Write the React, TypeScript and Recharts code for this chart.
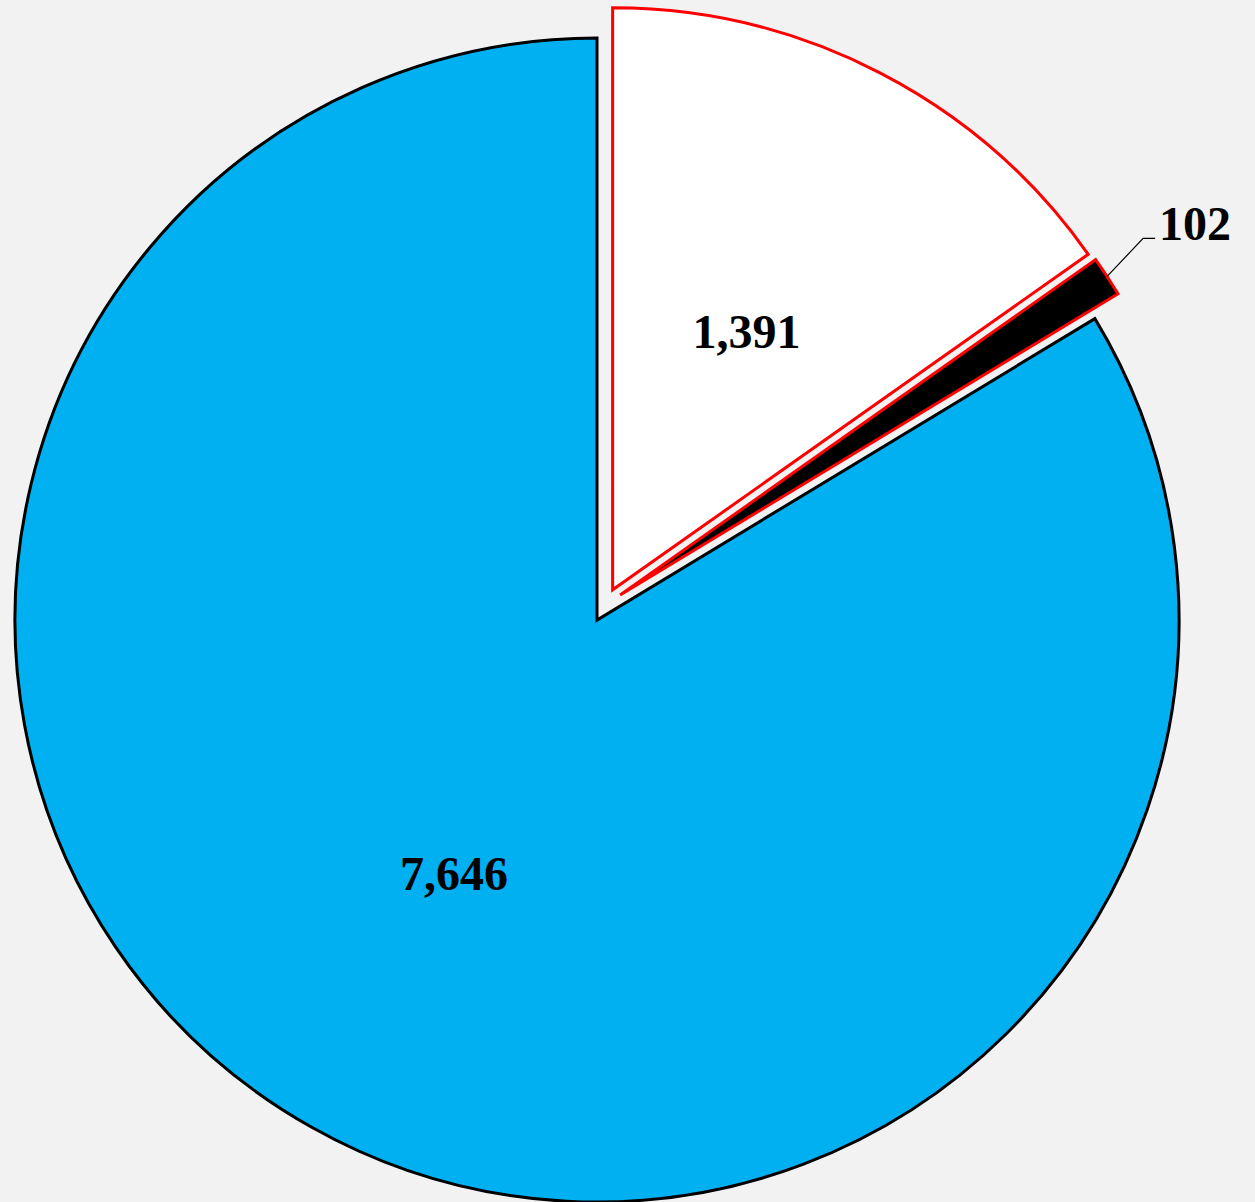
import { PieChart, Pie, Cell } from 'recharts';

const categories = ['Group B', 'Group C', 'Group A'];
const values = [1391, 102, 7646];
const fills = ['#ffffff', '#000000', '#00b0f0'];
const strokes = ['#ff0000', '#ff0000', '#000000'];
// explosion distance and direction offset (deg) per slice
const explodeDist = [34, 34, 0];
const explodeTurn = [0, 14, 0];

const bg = '#f2f2f2';
const W = 1255;
const H = 1202;
const CX = 597;
const CY = 620;
const R = 582;
const START = 90;
const RAD = Math.PI / 180;
const font = '"Liberation Serif", "Times New Roman", serif';

const data = categories.map((name, i) => ({ name, value: values[i] }));
const total = values.reduce((a, b) => a + b, 0);

// mid angle of each slice (degrees, clockwise from START)
const midAngles = values.map((v, i) => {
  const before = values.slice(0, i).reduce((a, b) => a + b, 0);
  return START - ((before + v / 2) / total) * 360;
});

const fmt = (v: number) => v.toLocaleString('en-US');

function makeLabel(target: number) {
  return (props: any) => {
    const { cx, cy, midAngle, outerRadius, index, value } = props;
    if (index !== target) return null;
    const cos = Math.cos(-midAngle * RAD);
    const sin = Math.sin(-midAngle * RAD);
    if (value / total > 0.05) {
      return (
        <text
          x={cx + outerRadius * 0.5 * cos}
          y={cy + outerRadius * 0.5 * sin}
          textAnchor="middle"
          dominantBaseline="central"
          fontFamily={font}
          fontWeight="bold"
          fontSize={48}
          fill="#000"
        >
          {fmt(value)}
        </text>
      );
    }
    const sx = cx + outerRadius * cos;
    const sy = cy + outerRadius * sin;
    const mx = sx + 36;
    const my = sy - 38;
    const ex = mx + 12;
    return (
      <g>
        <polyline points={`${sx},${sy} ${mx},${my} ${ex},${my}`} fill="none" stroke="#000" strokeWidth={1.2} />
        <text x={ex + 4} y={my + 2} textAnchor="start" fontFamily={font} fontWeight="bold" fontSize={48} fill="#000">
          {fmt(value)}
        </text>
      </g>
    );
  };
}

export default function App() {
  return (
    <div style={{ position: 'absolute', left: 0, top: 0, width: W, height: H, background: bg }}>
      <PieChart width={W} height={H} margin={{ top: 0, right: 0, bottom: 0, left: 0 }}>
        {values.map((_, k) => {
          const off = explodeDist[k];
          const dir = (midAngles[k] + explodeTurn[k]) * RAD;
          const cx = CX + off * Math.cos(dir);
          const cy = CY - off * Math.sin(dir);
          return (
            <Pie
              key={k}
              data={data}
              dataKey="value"
              nameKey="name"
              cx={cx}
              cy={cy}
              outerRadius={R}
              startAngle={START}
              endAngle={START - 360}
              isAnimationActive={false}
              labelLine={false}
              label={makeLabel(k)}
            >
              {data.map((d, i) => (
                <Cell
                  key={d.name}
                  fill={i === k ? fills[i] : 'none'}
                  stroke={i === k ? strokes[i] : 'none'}
                  strokeWidth={3}
                />
              ))}
            </Pie>
          );
        })}
      </PieChart>
    </div>
  );
}
